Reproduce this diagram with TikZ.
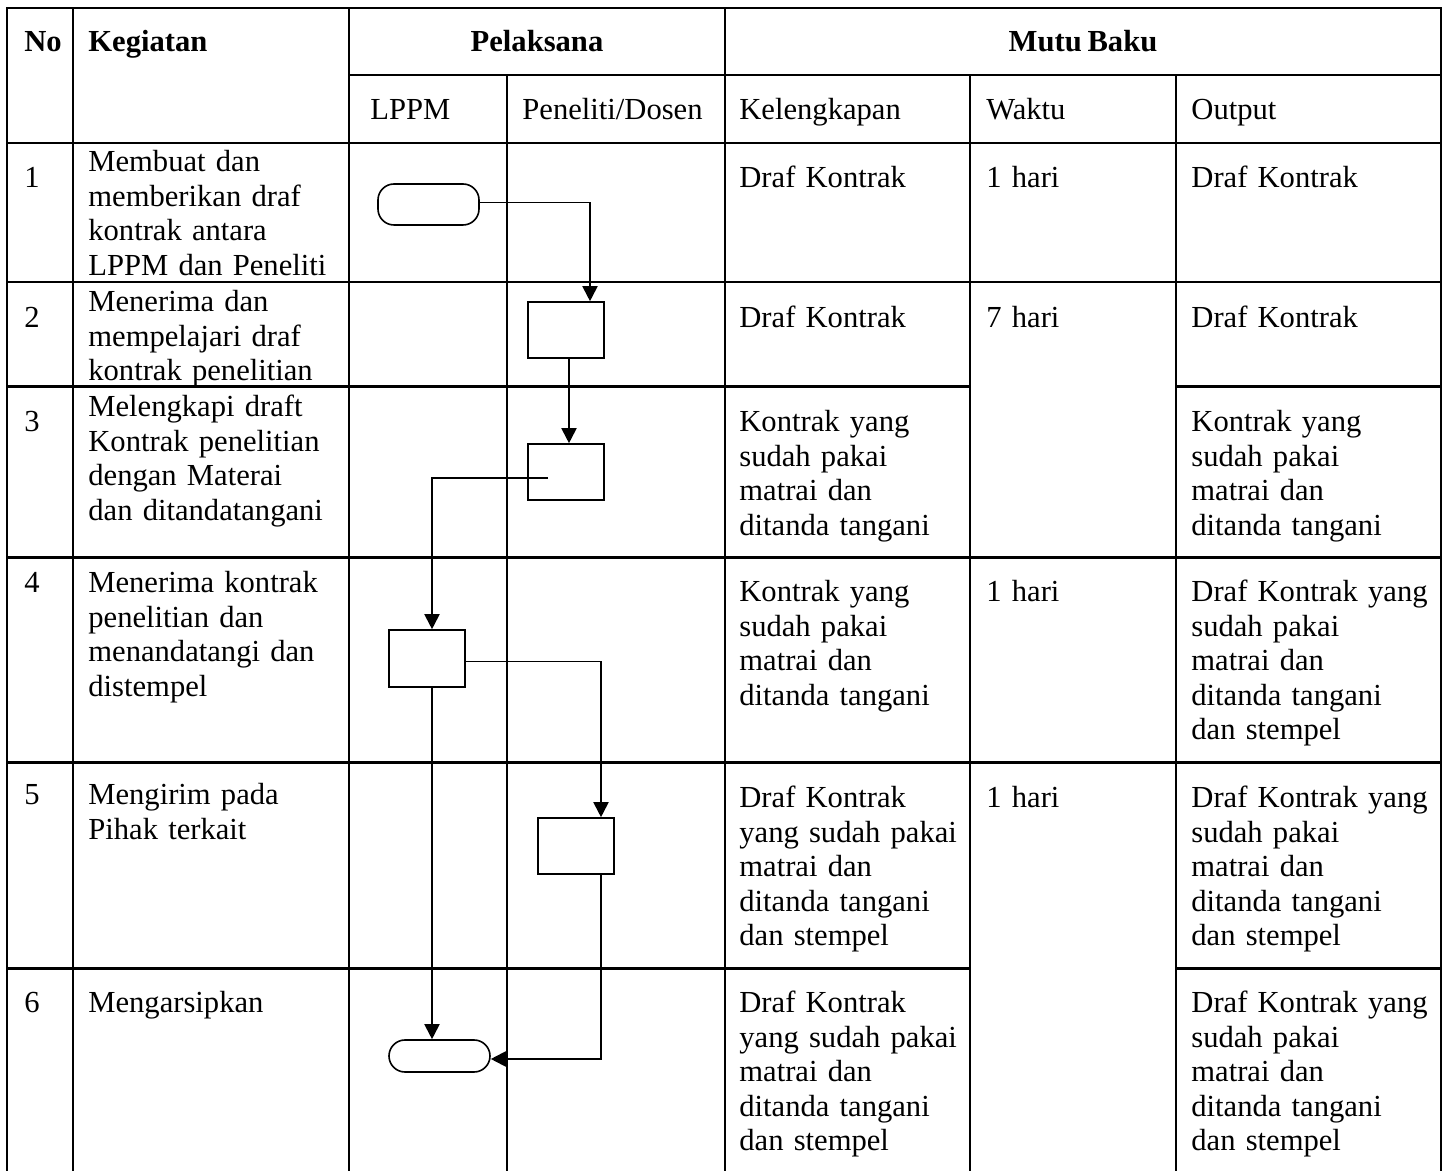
\documentclass[tikz,border=0pt]{standalone}
\usepackage{fontspec}
\setmainfont{Liberation Serif}
\usetikzlibrary{arrows.meta}
\newcommand{\cellfont}{\fontsize{15.3pt}{17.2pt}\selectfont\spaceskip=0.19em plus 0.05em\relax}
\begin{document}
\begin{tikzpicture}[x=0.5pt,y=-0.5pt,
  gridline/.style={line width=1.05pt, line cap=rect},
  txt/.style={anchor=base west, inner sep=0pt, align=left, text width=#1,
    font=\cellfont},
  txt/.default=140pt,
  hd/.style={anchor=base, inner sep=0pt, font=\cellfont\bfseries},
  hdl/.style={anchor=base west, inner sep=0pt, font=\cellfont\bfseries},
  proc/.style={draw, line width=0.8pt, minimum width=38pt, minimum height=28pt, inner sep=0pt},
  term/.style={draw, line width=0.8pt, rounded corners=8pt, minimum width=50.5pt, inner sep=0pt},
  conn/.style={line width=0.95pt},
  arr/.style={conn, -{Triangle[length=7.5pt,width=7.5pt]}}
]
\useasboundingbox (0,0) rectangle (1448,1171);

% ---- table grid ----
\draw[gridline] (7,8) -- (1441,8);
\draw[gridline] (349,75) -- (1441,75);
\draw[gridline] (7,143) -- (1441,143);
\draw[gridline] (7,282) -- (1441,282);
\draw[gridline] (7,386.5) -- (970,386.5);
\draw[gridline] (1176,386.5) -- (1441,386.5);
\draw[gridline] (7,557.5) -- (1441,557.5);
\draw[gridline] (7,762.5) -- (1441,762.5);
\draw[gridline] (7,968.5) -- (970,968.5);
\draw[gridline] (1176,968.5) -- (1441,968.5);
\draw[line width=1.05pt] (7,8) -- (7,1171);
\draw[line width=1.05pt] (73,8) -- (73,1171);
\draw[line width=1.05pt] (349,8) -- (349,1171);
\draw[line width=1.05pt] (507,75) -- (507,1171);
\draw[line width=1.05pt] (725,8) -- (725,1171);
\draw[line width=1.05pt] (970,75) -- (970,1171);
\draw[line width=1.05pt] (1176,75) -- (1176,1171);
\draw[line width=1.05pt] (1441,8) -- (1441,1171);

% ---- header ----
\node[hdl] (hNo) at (24,52) {No};
\node[hdl] (hKeg) at (88,52) {Kegiatan};
\node[hd] (hPel) at (537,52) {Pelaksana};
\node[hd] (hMutu) at (1083,52) {Mutu Baku};
\node[txt=70pt] (hLPPM) at (370,120) {LPPM};
\node[txt=100pt] (hPen) at (522,120) {Peneliti/Dosen};
\node[txt=110pt] (hKel) at (739,120) {Kelengkapan};
\node[txt=90pt] (hWak) at (986,120) {Waktu};
\node[txt=110pt] (hOut) at (1191,120) {Output};

% ---- row 1 ----
\node[txt=20pt] (n1) at (24,188) {1};
\node[txt] (k1) at (88,172) {Membuat dan\\memberikan draf\\kontrak antara\\LPPM dan Peneliti};
\node[txt=120pt] (kel1) at (739,188) {Draf Kontrak};
\node[txt=90pt] (w1) at (986,188) {1 hari};
\node[txt=125pt] (o1) at (1191,188) {Draf Kontrak};

% ---- row 2 ----
\node[txt=20pt] (n2) at (24,328) {2};
\node[txt] (k2) at (88,312) {Menerima dan\\mempelajari draf\\kontrak penelitian};
\node[txt=120pt] (kel2) at (739,328) {Draf Kontrak};
\node[txt=90pt] (w2) at (986,328) {7 hari};
\node[txt=125pt] (o2) at (1191,328) {Draf Kontrak};

% ---- row 3 ----
\node[txt=20pt] (n3) at (24,432) {3};
\node[txt] (k3) at (88,417) {Melengkapi draft\\Kontrak penelitian\\dengan Materai\\dan ditandatangani};
\node[txt=120pt] (kel3) at (739,432) {Kontrak yang\\sudah pakai\\matrai dan\\ditanda tangani};
\node[txt=125pt] (o3) at (1191,432) {Kontrak yang\\sudah pakai\\matrai dan\\ditanda tangani};

% ---- row 4 ----
\node[txt=20pt] (n4) at (24,593) {4};
\node[txt] (k4) at (88,593) {Menerima kontrak\\penelitian dan\\menandatangi dan\\distempel};
\node[txt=120pt] (kel4) at (739,602) {Kontrak yang\\sudah pakai\\matrai dan\\ditanda tangani};
\node[txt=90pt] (w4) at (986,602) {1 hari};
\node[txt=125pt] (o4) at (1191,602) {Draf Kontrak yang\\sudah pakai\\matrai dan\\ditanda tangani\\dan stempel};

% ---- row 5 ----
\node[txt=20pt] (n5) at (24,805) {5};
\node[txt] (k5) at (88,805) {Mengirim pada\\Pihak terkait};
\node[txt=120pt] (kel5) at (739,808) {Draf Kontrak\\yang sudah pakai\\matrai dan\\ditanda tangani\\dan stempel};
\node[txt=90pt] (w5) at (986,808) {1 hari};
\node[txt=125pt] (o5) at (1191,808) {Draf Kontrak yang\\sudah pakai\\matrai dan\\ditanda tangani\\dan stempel};

% ---- row 6 ----
\node[txt=20pt] (n6) at (24,1013) {6};
\node[txt] (k6) at (88,1013) {Mengarsipkan};
\node[txt=120pt] (kel6) at (739,1013) {Draf Kontrak\\yang sudah pakai\\matrai dan\\ditanda tangani\\dan stempel};
\node[txt=125pt] (o6) at (1191,1013) {Draf Kontrak yang\\sudah pakai\\matrai dan\\ditanda tangani\\dan stempel};

% ---- flow shapes ----
\node[term, minimum height=20.5pt] (t1) at (428.5,204.5) {};
\node[proc] (b2) at (566,330) {};
\node[proc] (b3) at (566,472) {};
\node[proc, minimum height=28.5pt] (b4) at (427,658.5) {};
\node[proc] (b5) at (576,846) {};
\node[term, minimum height=16pt] (t2) at (439.5,1056) {};
\coordinate (s3) at (548,478);

% ---- connectors ----
\draw[arr] ([yshift=1pt]t1.east) -| ([xshift=12pt]b2.north);
\draw[arr] ([xshift=1.5pt]b2.south) -- ([xshift=1.5pt]b3.north);
\draw[arr] (s3) -| ([xshift=2.5pt]b4.north);
\draw[arr] ([yshift=-1.5pt]b4.east) -| ([xshift=12.5pt]b5.north);
\draw[arr] ([xshift=2.5pt]b4.south) -- ([xshift=2.5pt]b4.south |- t2.north);
\draw[arr] ([xshift=12.5pt]b5.south) |- ([yshift=-1.5pt]t2.east);
\end{tikzpicture}
\end{document}
